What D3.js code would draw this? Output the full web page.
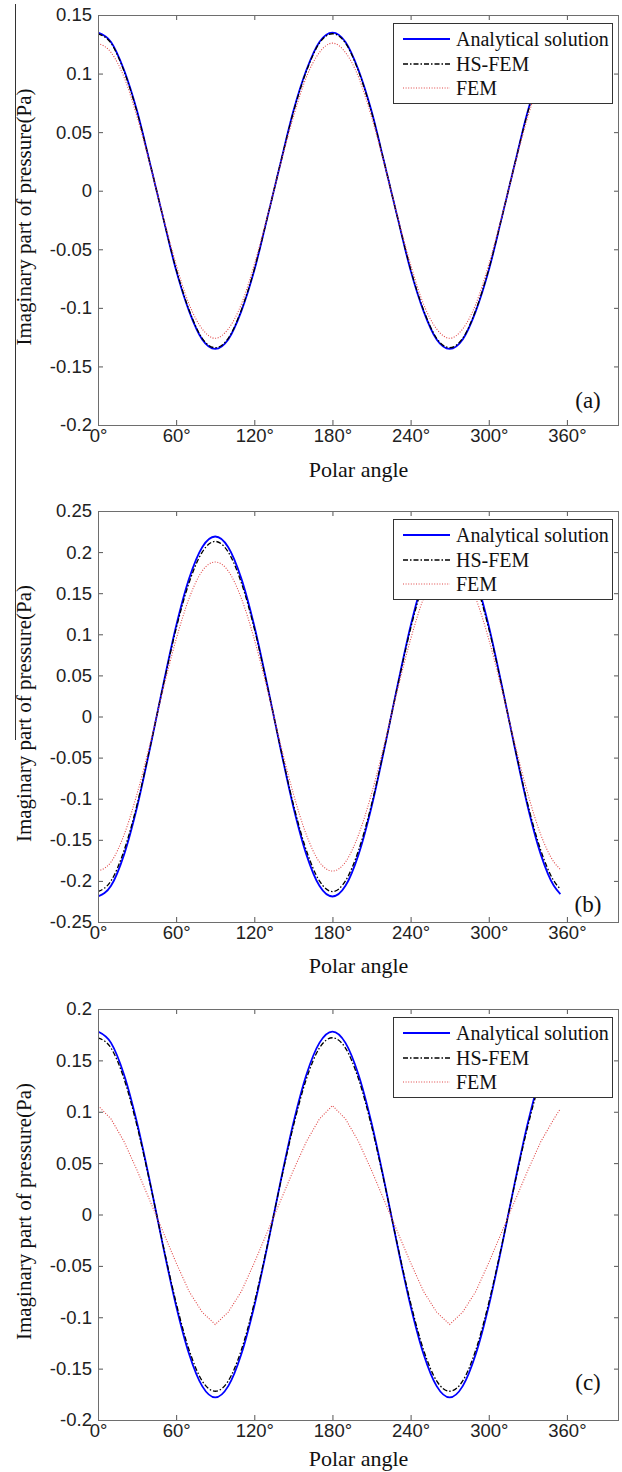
<!DOCTYPE html>
<html>
<head>
<meta charset="utf-8">
<script src="https://cdn.jsdelivr.net/npm/d3@7"></script>
<style>
body { margin: 0; background: #fff; }
.tick text { font-family: Arial, "Liberation Sans", sans-serif; font-size: 18.5px; fill: #222; }
.tick line { stroke: #555; }
.serif { font-family: "Liberation Serif", "Times New Roman", serif; fill: #111; }
</style>
</head>
<body>
<svg id="fig" width="622" height="1472"></svg>
<script>

//================= data ================================================//
var angles = [0,10,20,30,40,50,60,70,80,90,100,110,120,130,140,150,160,170,
              180,190,200,210,220,230,240,250,260,270,280,290,300,310,320,330,340,350,355];

// panel (a)
var aAnalytical = [0.135,0.127,0.103,0.068,0.023,-0.023,-0.068,-0.103,-0.127,-0.135,-0.127,-0.103,-0.068,-0.023,0.023,0.068,0.103,0.127,
                   0.135,0.127,0.103,0.068,0.023,-0.023,-0.068,-0.103,-0.127,-0.135,-0.127,-0.103,-0.068,-0.023,0.023,0.068,0.103,0.127,0.133];
var aHSFEM      = [0.134,0.126,0.102,0.067,0.023,-0.023,-0.067,-0.102,-0.126,-0.134,-0.126,-0.102,-0.067,-0.023,0.023,0.067,0.102,0.126,
                   0.134,0.126,0.102,0.067,0.023,-0.023,-0.067,-0.102,-0.126,-0.134,-0.126,-0.102,-0.067,-0.023,0.023,0.067,0.102,0.126,0.132];
var aFEM        = [0.126,0.118,0.097,0.063,0.022,-0.022,-0.063,-0.097,-0.118,-0.126,-0.118,-0.097,-0.063,-0.022,0.022,0.063,0.097,0.118,
                   0.126,0.118,0.097,0.063,0.022,-0.022,-0.063,-0.097,-0.118,-0.126,-0.118,-0.097,-0.063,-0.022,0.022,0.063,0.097,0.118,0.124];

// panel (b)
var bAnalytical = [-0.219,-0.206,-0.168,-0.110,-0.038,0.038,0.110,0.168,0.206,0.219,0.206,0.168,0.110,0.038,-0.038,-0.110,-0.168,-0.206,
                   -0.219,-0.206,-0.168,-0.110,-0.038,0.038,0.110,0.168,0.206,0.219,0.206,0.168,0.110,0.038,-0.038,-0.110,-0.168,-0.206,-0.216];
var bHSFEM      = [-0.213,-0.200,-0.163,-0.107,-0.037,0.037,0.107,0.163,0.200,0.213,0.200,0.163,0.107,0.037,-0.037,-0.107,-0.163,-0.200,
                   -0.213,-0.200,-0.163,-0.107,-0.037,0.037,0.107,0.163,0.200,0.213,0.200,0.163,0.107,0.037,-0.037,-0.107,-0.163,-0.200,-0.210];
var bFEM        = [-0.188,-0.177,-0.144,-0.094,-0.033,0.033,0.094,0.144,0.177,0.188,0.177,0.144,0.094,0.033,-0.033,-0.094,-0.144,-0.177,
                   -0.188,-0.177,-0.144,-0.094,-0.033,0.033,0.094,0.144,0.177,0.188,0.177,0.144,0.094,0.033,-0.033,-0.094,-0.144,-0.177,-0.186];

// panel (c)
var cAnalytical = [0.178,0.167,0.136,0.089,0.031,-0.031,-0.089,-0.136,-0.167,-0.178,-0.167,-0.136,-0.089,-0.031,0.031,0.089,0.136,0.167,
                   0.178,0.167,0.136,0.089,0.031,-0.031,-0.089,-0.136,-0.167,-0.178,-0.167,-0.136,-0.089,-0.031,0.031,0.089,0.136,0.167,0.175];
var cHSFEM      = [0.172,0.162,0.132,0.086,0.030,-0.030,-0.086,-0.132,-0.162,-0.172,-0.162,-0.132,-0.086,-0.030,0.030,0.086,0.132,0.162,
                   0.172,0.162,0.132,0.086,0.030,-0.030,-0.086,-0.132,-0.162,-0.172,-0.162,-0.132,-0.086,-0.030,0.030,0.086,0.132,0.162,0.169];
var cFEM        = [0.106,0.093,0.071,0.043,0.013,-0.017,-0.047,-0.075,-0.095,-0.107,-0.095,-0.075,-0.047,-0.017,0.013,0.043,0.071,0.093,
                   0.106,0.093,0.071,0.043,0.013,-0.017,-0.047,-0.075,-0.095,-0.107,-0.095,-0.075,-0.047,-0.017,0.013,0.043,0.071,0.093,0.103];

var xTicks  = [0,60,120,180,240,300,360];
var yTicksA = [-0.2,-0.15,-0.1,-0.05,0,0.05,0.1,0.15];
var yTicksB = [-0.25,-0.2,-0.15,-0.1,-0.05,0,0.05,0.1,0.15,0.2,0.25];
var yTicksC = [-0.2,-0.15,-0.1,-0.05,0,0.05,0.1,0.15,0.2];
var seriesNames = ["Analytical solution", "HS-FEM", "FEM"];
var panelLabels = ["(a)", "(b)", "(c)"];


//================= layout =====================//
var svg = d3.select("#fig");
var left = 98, right = 619;

var panels = [
  {top: 15,   bottom: 425,  dom: [-0.2, 0.15],  ticks: yTicksA, ys: [aAnalytical, aHSFEM, aFEM], labelY: 408, titleY: 477},
  {top: 511,  bottom: 922,  dom: [-0.25, 0.25], ticks: yTicksB, ys: [bAnalytical, bHSFEM, bFEM], labelY: 912, titleY: 973},
  {top: 1009, bottom: 1420, dom: [-0.2, 0.2],   ticks: yTicksC, ys: [cAnalytical, cHSFEM, cFEM], labelY: 1390, titleY: 1466}
];

var styles = [
  {stroke: "#0000ff", width: 1.8, dash: null},
  {stroke: "#000000", width: 1.3, dash: "5,2,1.5,2"},
  {stroke: "#e04848", width: 1.1, dash: "1,1.6"}
];

// stray border line left over from the page crop
svg.append("line")
   .attr("x1", 15.5).attr("x2", 15.5)
   .attr("y1", 4).attr("y2", 740)
   .attr("stroke", "#333").attr("stroke-width", 1);

var x = d3.scaleLinear().domain([0, 400]).range([left, right]);

panels.forEach(function(p, k){

  var y = d3.scaleLinear().domain(p.dom).range([p.bottom, p.top]);
  var g = svg.append("g").attr("class", "panel" + k);

  g.append("clipPath").attr("id", "clip" + k)
    .append("rect")
    .attr("x", left).attr("y", p.top)
    .attr("width", right - left).attr("height", p.bottom - p.top);

  // ================= axes (ticks point inward, like matlab)
  var fmtY = function(d){ return String(+d.toFixed(2)); };

  g.append("g")
    .attr("transform", "translate(0," + p.bottom + ")")
    .call(d3.axisBottom(x).tickValues(xTicks).tickSizeInner(-5).tickSizeOuter(0)
            .tickPadding(4).tickFormat(function(d){ return d + "°"; }))
    .call(function(a){ a.select(".domain").remove(); });

  g.append("g")
    .attr("transform", "translate(0," + p.top + ")")
    .call(d3.axisTop(x).tickValues(xTicks).tickSizeInner(-5).tickSizeOuter(0).tickFormat(""))
    .call(function(a){ a.select(".domain").remove(); });

  g.append("g")
    .attr("transform", "translate(" + left + ",0)")
    .call(d3.axisLeft(y).tickValues(p.ticks).tickSizeInner(-5).tickSizeOuter(0)
            .tickPadding(6).tickFormat(fmtY))
    .call(function(a){ a.select(".domain").remove(); });

  g.append("g")
    .attr("transform", "translate(" + right + ",0)")
    .call(d3.axisRight(y).tickValues(p.ticks).tickSizeInner(-5).tickSizeOuter(0).tickFormat(""))
    .call(function(a){ a.select(".domain").remove(); });

  // ================= lines
  p.ys.forEach(function(vals, s){
    var line = d3.line()
      .x(function(d, i){ return x(angles[i]); })
      .y(function(d){ return y(d); })
      .curve(k === 2 && s === 2 ? d3.curveLinear : d3.curveMonotoneX);

    g.append("path")
      .attr("clip-path", "url(#clip" + k + ")")
      .attr("d", line(vals))
      .attr("fill", "none")
      .attr("stroke", styles[s].stroke)
      .attr("stroke-width", styles[s].width)
      .attr("stroke-dasharray", styles[s].dash);
  });

  // frame
  g.append("rect")
    .attr("x", left + 0.5).attr("y", p.top + 0.5)
    .attr("width", right - left - 1).attr("height", p.bottom - p.top)
    .attr("fill", "none").attr("stroke", "#6e6e6e").attr("stroke-width", 1);

  // ================= legend
  var lx = 393, ly = p.top + 8;
  g.append("rect")
    .attr("x", lx + 0.5).attr("y", ly + 0.5)
    .attr("width", 219).attr("height", 80)
    .attr("fill", "#fff").attr("stroke", "#333").attr("stroke-width", 1);

  var rowY = [16, 41, 65];
  seriesNames.forEach(function(name, s){
    g.append("line")
      .attr("x1", lx + 10).attr("x2", lx + 57)
      .attr("y1", ly + rowY[s]).attr("y2", ly + rowY[s])
      .attr("stroke", styles[s].stroke)
      .attr("stroke-width", styles[s].width)
      .attr("stroke-dasharray", styles[s].dash);
    g.append("text")
      .attr("class", "serif")
      .attr("x", lx + 63).attr("y", ly + rowY[s])
      .attr("dy", "0.35em")
      .style("font-size", "20px")
      .text(name);
  });

  // ================= titles
  g.append("text")
    .attr("class", "serif")
    .attr("x", (left + right) / 2).attr("y", p.titleY)
    .attr("text-anchor", "middle")
    .style("font-size", "22px")
    .text("Polar angle");

  g.append("text")
    .attr("class", "serif")
    .attr("transform", "translate(31," + ((p.top + p.bottom) / 2 - 3) + ") rotate(-90)")
    .attr("text-anchor", "middle")
    .style("font-size", "21px")
    .text("Imaginary part of pressure(Pa)");

  g.append("text")
    .attr("class", "serif")
    .attr("x", 588).attr("y", p.labelY)
    .attr("text-anchor", "middle")
    .style("font-size", "23px")
    .text(panelLabels[k]);
});

</script>
</body>
</html>
